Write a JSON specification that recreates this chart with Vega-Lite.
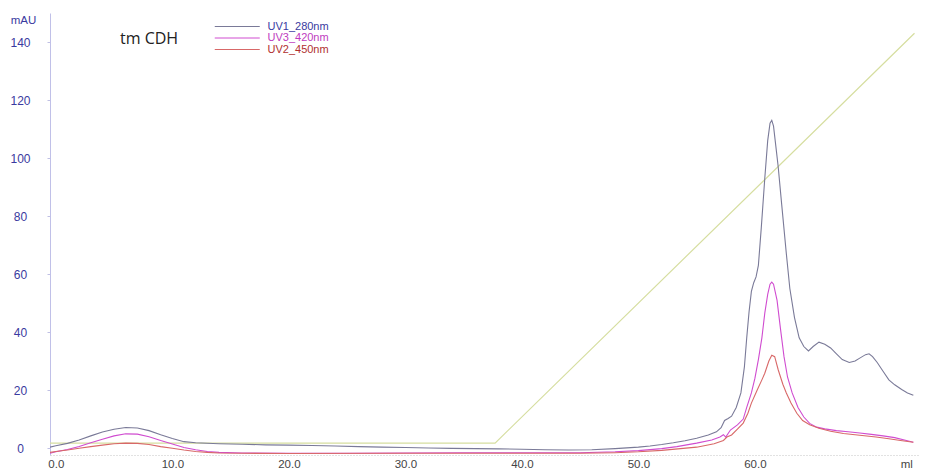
{
  "$schema": "https://vega.github.io/schema/vega-lite/v6.json",
  "autosize": {"type": "none"},
  "padding": {"left": 50, "top": 13, "right": 7, "bottom": 18},
  "width": 868,
  "height": 442,
  "background": "white",
  "title": {"text": "tm CDH", "anchor": "start", "frame": "group", "dx": 70, "dy": 42, "baseline": "middle", "offset": 0, "fontSize": 16, "fontWeight": "normal", "font": "Open Sans", "color": "#222222"},
  "config": {"view": {"stroke": null}, "font": "Liberation Sans"},
  "datasets": {
    "uv": [
      {"ml": -0.5, "mAU": 0.3, "series": "UV1_280nm"},
      {"ml": 0, "mAU": 0.8, "series": "UV1_280nm"},
      {"ml": 1, "mAU": 1.6, "series": "UV1_280nm"},
      {"ml": 2, "mAU": 2.8, "series": "UV1_280nm"},
      {"ml": 3, "mAU": 4.2, "series": "UV1_280nm"},
      {"ml": 4, "mAU": 5.5, "series": "UV1_280nm"},
      {"ml": 5, "mAU": 6.5, "series": "UV1_280nm"},
      {"ml": 6, "mAU": 7.1, "series": "UV1_280nm"},
      {"ml": 7, "mAU": 6.9, "series": "UV1_280nm"},
      {"ml": 8, "mAU": 6.0, "series": "UV1_280nm"},
      {"ml": 9, "mAU": 4.6, "series": "UV1_280nm"},
      {"ml": 10, "mAU": 3.3, "series": "UV1_280nm"},
      {"ml": 11, "mAU": 2.2, "series": "UV1_280nm"},
      {"ml": 12, "mAU": 1.8, "series": "UV1_280nm"},
      {"ml": 14, "mAU": 1.5, "series": "UV1_280nm"},
      {"ml": 16, "mAU": 1.3, "series": "UV1_280nm"},
      {"ml": 18, "mAU": 1.1, "series": "UV1_280nm"},
      {"ml": 20, "mAU": 1.0, "series": "UV1_280nm"},
      {"ml": 22, "mAU": 0.9, "series": "UV1_280nm"},
      {"ml": 24, "mAU": 0.7, "series": "UV1_280nm"},
      {"ml": 26, "mAU": 0.5, "series": "UV1_280nm"},
      {"ml": 28, "mAU": 0.3, "series": "UV1_280nm"},
      {"ml": 30, "mAU": 0.2, "series": "UV1_280nm"},
      {"ml": 32, "mAU": 0.0, "series": "UV1_280nm"},
      {"ml": 34, "mAU": -0.1, "series": "UV1_280nm"},
      {"ml": 36, "mAU": -0.2, "series": "UV1_280nm"},
      {"ml": 38, "mAU": -0.3, "series": "UV1_280nm"},
      {"ml": 40, "mAU": -0.4, "series": "UV1_280nm"},
      {"ml": 42, "mAU": -0.6, "series": "UV1_280nm"},
      {"ml": 44, "mAU": -0.7, "series": "UV1_280nm"},
      {"ml": 46, "mAU": -0.6, "series": "UV1_280nm"},
      {"ml": 48, "mAU": -0.2, "series": "UV1_280nm"},
      {"ml": 50, "mAU": 0.3, "series": "UV1_280nm"},
      {"ml": 51, "mAU": 0.7, "series": "UV1_280nm"},
      {"ml": 52, "mAU": 1.2, "series": "UV1_280nm"},
      {"ml": 53, "mAU": 1.8, "series": "UV1_280nm"},
      {"ml": 54, "mAU": 2.5, "series": "UV1_280nm"},
      {"ml": 55, "mAU": 3.4, "series": "UV1_280nm"},
      {"ml": 56, "mAU": 4.5, "series": "UV1_280nm"},
      {"ml": 56.7, "mAU": 5.6, "series": "UV1_280nm"},
      {"ml": 57.1, "mAU": 7.0, "series": "UV1_280nm"},
      {"ml": 57.4, "mAU": 9.5, "series": "UV1_280nm"},
      {"ml": 57.7, "mAU": 10.2, "series": "UV1_280nm"},
      {"ml": 58.0, "mAU": 11, "series": "UV1_280nm"},
      {"ml": 58.4, "mAU": 14, "series": "UV1_280nm"},
      {"ml": 58.8, "mAU": 19, "series": "UV1_280nm"},
      {"ml": 59.1, "mAU": 28, "series": "UV1_280nm"},
      {"ml": 59.3, "mAU": 38, "series": "UV1_280nm"},
      {"ml": 59.5, "mAU": 47, "series": "UV1_280nm"},
      {"ml": 59.7, "mAU": 54, "series": "UV1_280nm"},
      {"ml": 59.9, "mAU": 57, "series": "UV1_280nm"},
      {"ml": 60.1, "mAU": 59, "series": "UV1_280nm"},
      {"ml": 60.3, "mAU": 63, "series": "UV1_280nm"},
      {"ml": 60.55, "mAU": 76, "series": "UV1_280nm"},
      {"ml": 60.85, "mAU": 93, "series": "UV1_280nm"},
      {"ml": 61.1, "mAU": 106, "series": "UV1_280nm"},
      {"ml": 61.3, "mAU": 112, "series": "UV1_280nm"},
      {"ml": 61.45, "mAU": 113, "series": "UV1_280nm"},
      {"ml": 61.6, "mAU": 111, "series": "UV1_280nm"},
      {"ml": 61.8, "mAU": 104, "series": "UV1_280nm"},
      {"ml": 62.0, "mAU": 97, "series": "UV1_280nm"},
      {"ml": 62.3, "mAU": 84, "series": "UV1_280nm"},
      {"ml": 62.7, "mAU": 67, "series": "UV1_280nm"},
      {"ml": 63.0, "mAU": 55, "series": "UV1_280nm"},
      {"ml": 63.4, "mAU": 45, "series": "UV1_280nm"},
      {"ml": 63.8, "mAU": 38, "series": "UV1_280nm"},
      {"ml": 64.2, "mAU": 35, "series": "UV1_280nm"},
      {"ml": 64.6, "mAU": 33.5, "series": "UV1_280nm"},
      {"ml": 65.0, "mAU": 35, "series": "UV1_280nm"},
      {"ml": 65.5, "mAU": 36.5, "series": "UV1_280nm"},
      {"ml": 66.0, "mAU": 35.8, "series": "UV1_280nm"},
      {"ml": 66.5, "mAU": 34.5, "series": "UV1_280nm"},
      {"ml": 67.0, "mAU": 32.5, "series": "UV1_280nm"},
      {"ml": 67.5, "mAU": 30.5, "series": "UV1_280nm"},
      {"ml": 68.1, "mAU": 29.5, "series": "UV1_280nm"},
      {"ml": 68.6, "mAU": 30, "series": "UV1_280nm"},
      {"ml": 69.0, "mAU": 31, "series": "UV1_280nm"},
      {"ml": 69.5, "mAU": 32.2, "series": "UV1_280nm"},
      {"ml": 69.8, "mAU": 32.5, "series": "UV1_280nm"},
      {"ml": 70.1, "mAU": 31.5, "series": "UV1_280nm"},
      {"ml": 70.5, "mAU": 29.5, "series": "UV1_280nm"},
      {"ml": 71.0, "mAU": 26.5, "series": "UV1_280nm"},
      {"ml": 71.5, "mAU": 23.5, "series": "UV1_280nm"},
      {"ml": 72.0, "mAU": 21.8, "series": "UV1_280nm"},
      {"ml": 72.6, "mAU": 20.2, "series": "UV1_280nm"},
      {"ml": 73.1, "mAU": 19, "series": "UV1_280nm"},
      {"ml": 73.6, "mAU": 18.2, "series": "UV1_280nm"},

      {"ml": -0.5, "mAU": -1.8, "series": "UV3_420nm"},
      {"ml": 0, "mAU": -1.3, "series": "UV3_420nm"},
      {"ml": 1, "mAU": -0.5, "series": "UV3_420nm"},
      {"ml": 2, "mAU": 0.5, "series": "UV3_420nm"},
      {"ml": 3, "mAU": 1.8, "series": "UV3_420nm"},
      {"ml": 4, "mAU": 3.0, "series": "UV3_420nm"},
      {"ml": 5, "mAU": 4.2, "series": "UV3_420nm"},
      {"ml": 6, "mAU": 4.9, "series": "UV3_420nm"},
      {"ml": 7, "mAU": 4.8, "series": "UV3_420nm"},
      {"ml": 8, "mAU": 3.9, "series": "UV3_420nm"},
      {"ml": 9, "mAU": 2.6, "series": "UV3_420nm"},
      {"ml": 10, "mAU": 1.4, "series": "UV3_420nm"},
      {"ml": 11, "mAU": 0.2, "series": "UV3_420nm"},
      {"ml": 12, "mAU": -0.6, "series": "UV3_420nm"},
      {"ml": 13, "mAU": -1.2, "series": "UV3_420nm"},
      {"ml": 14, "mAU": -1.5, "series": "UV3_420nm"},
      {"ml": 16, "mAU": -1.7, "series": "UV3_420nm"},
      {"ml": 20, "mAU": -1.8, "series": "UV3_420nm"},
      {"ml": 25, "mAU": -1.8, "series": "UV3_420nm"},
      {"ml": 30, "mAU": -1.7, "series": "UV3_420nm"},
      {"ml": 35, "mAU": -1.6, "series": "UV3_420nm"},
      {"ml": 40, "mAU": -1.6, "series": "UV3_420nm"},
      {"ml": 45, "mAU": -1.6, "series": "UV3_420nm"},
      {"ml": 48, "mAU": -1.3, "series": "UV3_420nm"},
      {"ml": 50, "mAU": -0.9, "series": "UV3_420nm"},
      {"ml": 52, "mAU": -0.2, "series": "UV3_420nm"},
      {"ml": 53.3, "mAU": 0.5, "series": "UV3_420nm"},
      {"ml": 55, "mAU": 1.7, "series": "UV3_420nm"},
      {"ml": 56.3, "mAU": 2.8, "series": "UV3_420nm"},
      {"ml": 57.0, "mAU": 3.8, "series": "UV3_420nm"},
      {"ml": 57.3, "mAU": 4.6, "series": "UV3_420nm"},
      {"ml": 57.5, "mAU": 3.8, "series": "UV3_420nm"},
      {"ml": 57.9, "mAU": 6.2, "series": "UV3_420nm"},
      {"ml": 58.5, "mAU": 8, "series": "UV3_420nm"},
      {"ml": 59.0, "mAU": 10, "series": "UV3_420nm"},
      {"ml": 59.3, "mAU": 14, "series": "UV3_420nm"},
      {"ml": 59.7, "mAU": 19, "series": "UV3_420nm"},
      {"ml": 60.0, "mAU": 24, "series": "UV3_420nm"},
      {"ml": 60.3, "mAU": 30.5, "series": "UV3_420nm"},
      {"ml": 60.6, "mAU": 38, "series": "UV3_420nm"},
      {"ml": 60.85, "mAU": 46.5, "series": "UV3_420nm"},
      {"ml": 61.1, "mAU": 53, "series": "UV3_420nm"},
      {"ml": 61.3, "mAU": 56.5, "series": "UV3_420nm"},
      {"ml": 61.45, "mAU": 57.2, "series": "UV3_420nm"},
      {"ml": 61.6, "mAU": 56.5, "series": "UV3_420nm"},
      {"ml": 61.9, "mAU": 51, "series": "UV3_420nm"},
      {"ml": 62.2, "mAU": 41, "series": "UV3_420nm"},
      {"ml": 62.5, "mAU": 31.5, "series": "UV3_420nm"},
      {"ml": 62.8, "mAU": 24.5, "series": "UV3_420nm"},
      {"ml": 63.2, "mAU": 19, "series": "UV3_420nm"},
      {"ml": 63.7, "mAU": 14, "series": "UV3_420nm"},
      {"ml": 64.2, "mAU": 10.7, "series": "UV3_420nm"},
      {"ml": 64.7, "mAU": 8.5, "series": "UV3_420nm"},
      {"ml": 65.3, "mAU": 7.2, "series": "UV3_420nm"},
      {"ml": 66, "mAU": 6.6, "series": "UV3_420nm"},
      {"ml": 67, "mAU": 6.0, "series": "UV3_420nm"},
      {"ml": 68, "mAU": 5.6, "series": "UV3_420nm"},
      {"ml": 69, "mAU": 5.2, "series": "UV3_420nm"},
      {"ml": 70, "mAU": 4.7, "series": "UV3_420nm"},
      {"ml": 71, "mAU": 4.2, "series": "UV3_420nm"},
      {"ml": 72, "mAU": 3.6, "series": "UV3_420nm"},
      {"ml": 73, "mAU": 2.6, "series": "UV3_420nm"},
      {"ml": 73.6, "mAU": 2.0, "series": "UV3_420nm"},

      {"ml": -0.5, "mAU": -1.5, "series": "UV2_450nm"},
      {"ml": 0, "mAU": -1.2, "series": "UV2_450nm"},
      {"ml": 1, "mAU": -0.7, "series": "UV2_450nm"},
      {"ml": 2, "mAU": -0.1, "series": "UV2_450nm"},
      {"ml": 3, "mAU": 0.5, "series": "UV2_450nm"},
      {"ml": 4, "mAU": 1.0, "series": "UV2_450nm"},
      {"ml": 5, "mAU": 1.5, "series": "UV2_450nm"},
      {"ml": 6, "mAU": 1.7, "series": "UV2_450nm"},
      {"ml": 7, "mAU": 1.6, "series": "UV2_450nm"},
      {"ml": 8, "mAU": 1.2, "series": "UV2_450nm"},
      {"ml": 9, "mAU": 0.5, "series": "UV2_450nm"},
      {"ml": 10, "mAU": -0.1, "series": "UV2_450nm"},
      {"ml": 11, "mAU": -0.7, "series": "UV2_450nm"},
      {"ml": 12, "mAU": -1.2, "series": "UV2_450nm"},
      {"ml": 13, "mAU": -1.5, "series": "UV2_450nm"},
      {"ml": 14, "mAU": -1.7, "series": "UV2_450nm"},
      {"ml": 16, "mAU": -1.8, "series": "UV2_450nm"},
      {"ml": 20, "mAU": -1.9, "series": "UV2_450nm"},
      {"ml": 30, "mAU": -1.8, "series": "UV2_450nm"},
      {"ml": 40, "mAU": -1.8, "series": "UV2_450nm"},
      {"ml": 45, "mAU": -1.8, "series": "UV2_450nm"},
      {"ml": 48, "mAU": -1.6, "series": "UV2_450nm"},
      {"ml": 50, "mAU": -1.3, "series": "UV2_450nm"},
      {"ml": 52, "mAU": -0.8, "series": "UV2_450nm"},
      {"ml": 55, "mAU": 0.3, "series": "UV2_450nm"},
      {"ml": 56.5, "mAU": 1.5, "series": "UV2_450nm"},
      {"ml": 57.3, "mAU": 2.6, "series": "UV2_450nm"},
      {"ml": 57.6, "mAU": 3.8, "series": "UV2_450nm"},
      {"ml": 58, "mAU": 4.5, "series": "UV2_450nm"},
      {"ml": 58.5, "mAU": 6.5, "series": "UV2_450nm"},
      {"ml": 59.0, "mAU": 8.6, "series": "UV2_450nm"},
      {"ml": 59.4, "mAU": 12, "series": "UV2_450nm"},
      {"ml": 59.7, "mAU": 15.5, "series": "UV2_450nm"},
      {"ml": 60.2, "mAU": 20, "series": "UV2_450nm"},
      {"ml": 60.6, "mAU": 23.5, "series": "UV2_450nm"},
      {"ml": 60.85, "mAU": 25.8, "series": "UV2_450nm"},
      {"ml": 61.2, "mAU": 30, "series": "UV2_450nm"},
      {"ml": 61.45, "mAU": 32, "series": "UV2_450nm"},
      {"ml": 61.7, "mAU": 31.5, "series": "UV2_450nm"},
      {"ml": 62.0, "mAU": 27, "series": "UV2_450nm"},
      {"ml": 62.4, "mAU": 22, "series": "UV2_450nm"},
      {"ml": 62.7, "mAU": 19, "series": "UV2_450nm"},
      {"ml": 63.1, "mAU": 15.5, "series": "UV2_450nm"},
      {"ml": 63.6, "mAU": 12, "series": "UV2_450nm"},
      {"ml": 64.1, "mAU": 9.5, "series": "UV2_450nm"},
      {"ml": 64.7, "mAU": 8, "series": "UV2_450nm"},
      {"ml": 65.5, "mAU": 6.8, "series": "UV2_450nm"},
      {"ml": 66.5, "mAU": 5.8, "series": "UV2_450nm"},
      {"ml": 67.6, "mAU": 5.0, "series": "UV2_450nm"},
      {"ml": 69, "mAU": 4.4, "series": "UV2_450nm"},
      {"ml": 70.4, "mAU": 3.8, "series": "UV2_450nm"},
      {"ml": 71.5, "mAU": 3.2, "series": "UV2_450nm"},
      {"ml": 72.5, "mAU": 2.6, "series": "UV2_450nm"},
      {"ml": 73.6, "mAU": 2.0, "series": "UV2_450nm"}
    ],
    "gradient": [
      {"ml": -0.5, "mAU": 1.7},
      {"ml": 37.7, "mAU": 1.7},
      {"ml": 73.7, "mAU": 143}
    ]
  },
  "layer": [
    {
      "data": {"name": "gradient"},
      "mark": {"type": "line", "color": "#d6dea0", "strokeWidth": 1.2, "clip": true},
      "encoding": {
        "x": {"field": "ml", "type": "quantitative", "scale": {"domain": [-0.5, 74], "nice": false, "zero": false},
          "axis": {"values": [0, 10, 20, 30, 40, 50, 60, 73], "labelExpr": "datum.value > 70 ? 'ml' : format(datum.value, '.1f')", "title": null, "grid": false, "ticks": false, "labelPadding": 3, "labelFontSize": 11.5, "labelColor": "#444444", "labelFont": "Liberation Sans", "labelOverlap": false, "domainColor": "#c4c4c4", "domainDash": [1, 2], "domainWidth": 1}},
        "y": {"field": "mAU", "type": "quantitative", "scale": {"domain": [-2.4, 150], "nice": false, "zero": false},
          "axis": {"values": [0, 10, 20, 30, 40, 50, 60, 70, 80, 90, 100, 110, 120, 130, 140], "labelExpr": "datum.value % 20 == 0 ? format(datum.value, 'd') : ''", "title": "mAU", "titleAngle": 0, "titleAlign": "center", "titleBaseline": "middle", "titleX": -27, "titleY": 7, "titleFontSize": 11.5, "titleFontWeight": "normal", "titleColor": "#3a3aa0", "titleFont": "Liberation Sans", "grid": false, "tickSize": 3, "tickColor": "#c0c0e4", "labelOverlap": false, "labelAlign": "center", "labelPadding": 27, "labelFontSize": 12, "labelColor": "#3a3aa0", "labelFont": "Liberation Sans", "domainColor": "#c0c0e8", "domainWidth": 1}}
      }
    },
    {
      "data": {"name": "uv"},
      "mark": {"type": "line", "strokeWidth": 1.1, "clip": true},
      "encoding": {
        "x": {"field": "ml", "type": "quantitative"},
        "y": {"field": "mAU", "type": "quantitative"},
        "color": {"field": "series", "type": "nominal",
          "scale": {"domain": ["UV1_280nm", "UV3_420nm", "UV2_450nm"], "range": ["#7a7a98", "#d04cd0", "#d86868"]},
          "legend": {"orient": "none", "legendX": 163, "legendY": 8, "title": null, "symbolType": "M-1,0H11", "symbolSize": 56.25, "symbolStrokeWidth": 1, "labelFontSize": 11, "labelFont": "Liberation Sans", "labelOffset": 43.5, "rowPadding": -0.5, "padding": 0,
            "labelColor": {"expr": "datum.value == 'UV1_280nm' ? '#3a3aa0' : (datum.value == 'UV3_420nm' ? '#c03cc0' : '#b03030')"}}
        },
        "order": {"field": "ml", "type": "quantitative"}
      }
    }
  ]
}
